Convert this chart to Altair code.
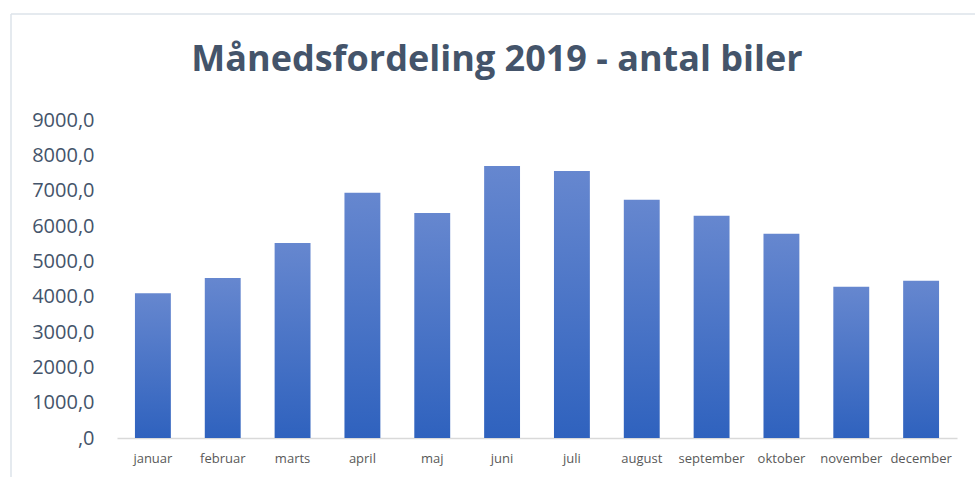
import altair as alt
import pandas as pd

months = ["januar", "februar", "marts", "april", "maj", "juni", "juli",
          "august", "september", "oktober", "november", "december"]
cars = [4100, 4530, 5520, 6940, 6370, 7700, 7560, 6740, 6290, 5780, 4280, 4450]
y_ticks = [0, 1000, 2000, 3000, 4000, 5000, 6000, 7000, 8000, 9000]

df = pd.DataFrame({"month": months, "cars": cars})

grad = alt.Gradient(
    gradient="linear",
    stops=[alt.GradientStop(color="#6687cf", offset=0),
           alt.GradientStop(color="#2f62be", offset=1)],
    x1=0, x2=0, y1=0, y2=1,
)

bars = alt.Chart(df).mark_bar(color=grad).encode(
    x=alt.X("month:N", sort=months, title=None,
            scale=alt.Scale(paddingInner=0.486, paddingOuter=0.257),
            axis=alt.Axis(labelAngle=0, ticks=False, domainColor="#d9d9d9",
                          domainWidth=1.5, labelFont="Open Sans", labelFontSize=13,
                          labelColor="#595959", labelPadding=14)),
    y=alt.Y("cars:Q", title=None,
            scale=alt.Scale(domain=[0, 9000], nice=False),
            axis=alt.Axis(values=y_ticks, grid=False, domain=False, ticks=False,
                          labelExpr="replace(format(datum.value, '.1f'), '.', ',') == '0,0' ? ',0' : replace(format(datum.value, '.1f'), '.', ',')",
                          labelFont="Open Sans", labelFontSize=20,
                          labelColor="#44546a", labelPadding=23)),
)

one = pd.DataFrame({"a": [0]})
top_border = alt.Chart(one).mark_rule(color="#dde3ea", strokeWidth=1.5).encode(
    x=alt.value(-106), x2=alt.value(900), y=alt.value(-106))
left_border = alt.Chart(one).mark_rule(color="#dde3ea", strokeWidth=1.5).encode(
    x=alt.value(-106), y=alt.value(-106), y2=alt.value(400))

chart = alt.layer(top_border, left_border, bars).properties(
    width=840, height=318,
    background="white",
    autosize=alt.AutoSizeParams(type="none"),
    padding={"left": 117, "top": 120, "right": 18, "bottom": 39},
    title=alt.Title("Månedsfordeling 2019 - antal biler", font="Open Sans",
                    fontSize=36, fontWeight="bold", color="#44546a",
                    anchor="middle", dx=-40, offset=-66),
).configure_view(stroke="transparent", strokeWidth=0)

chart.save("out.html", embed_options={"renderer": "svg", "actions": False})
